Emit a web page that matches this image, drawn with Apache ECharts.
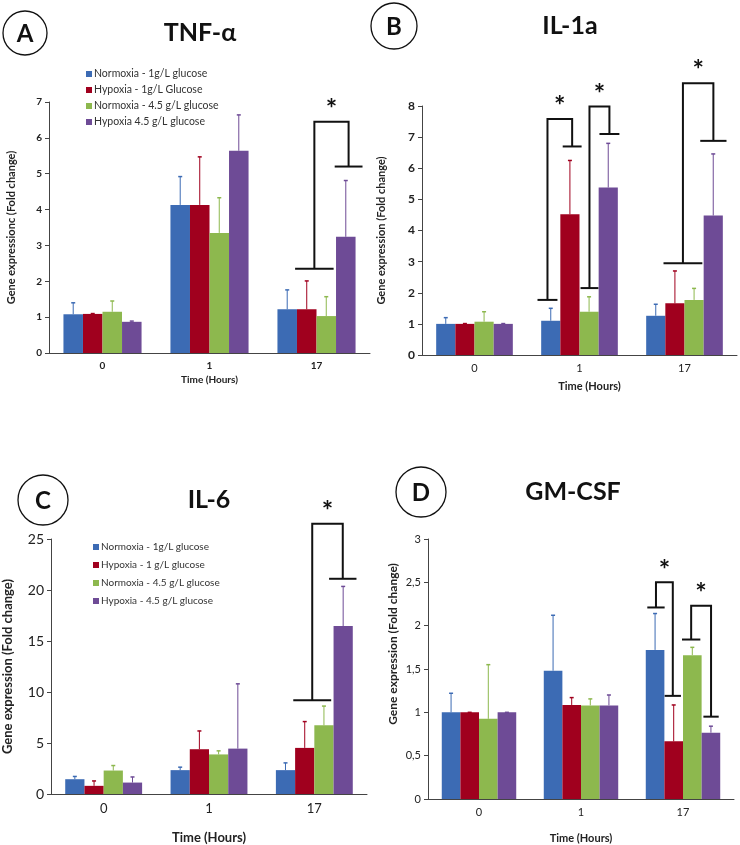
<!DOCTYPE html>
<html>
<head>
<meta charset="utf-8">
<script src="https://cdn.jsdelivr.net/npm/echarts@6/dist/echarts.min.js"></script>
<style>
  html, body { margin: 0; padding: 0; background: #fff; }
  #chart { width: 740px; height: 845px; }
</style>
</head>
<body>
<div id="chart"></div>
<script>
// time points (hours)
const categories = ['0', '1', '17'];
const colors = ['#3C6BB4', '#A0001E', '#8DB84E', '#6E4B96'];

const legendA = ['Normoxia - 1g/L glucose', 'Hypoxia - 1g/L Glucose', 'Normoxia - 4.5 g/L glucose', 'Hypoxia 4.5 g/L glucose'];
const legendC = ['Normoxia - 1g/L glucose', 'Hypoxia - 1 g/L glucose', 'Normoxia - 4.5 g/L glucose', 'Hypoxia - 4.5 g/L glucose'];

// mean fold change, one row per condition (blue, red, green, purple)
const tnfMean = [[1.08, 4.13, 1.22], [1.09, 4.13, 1.22], [1.15, 3.35, 1.03], [0.87, 5.64, 3.24]];
const tnfUpper = [[1.40, 4.92, 1.76], [1.10, 5.47, 2.01], [1.45, 4.33, 1.57], [0.89, 6.64, 4.81]];

const il1aMean = [[1.0, 1.10, 1.26], [1.0, 4.52, 1.66], [1.07, 1.39, 1.77], [1.0, 5.38, 4.48]];
const il1aUpper = [[1.20, 1.50, 1.63], [1.01, 6.25, 2.70], [1.39, 1.87, 2.14], [1.01, 6.80, 6.46]];

const il6Mean = [[1.45, 2.34, 2.34], [0.80, 4.39, 4.52], [2.30, 3.88, 6.73], [1.12, 4.45, 16.47]];
const il6Upper = [[1.72, 2.63, 3.05], [1.28, 6.18, 7.10], [2.79, 4.23, 8.62], [1.67, 10.8, 20.35]];

const gmMean = [[1.0, 1.48, 1.72], [1.0, 1.085, 0.665], [0.925, 1.08, 1.66], [1.0, 1.08, 0.765]];
const gmUpper = [[1.22, 2.12, 2.14], [1.0, 1.17, 1.085], [1.55, 1.155, 1.75], [1.0, 1.20, 0.84]];

// significance brackets: [category, leftFrom, leftTo, leftY, rightFrom, rightTo, rightY, topY]
// from/to are offsets in category widths from the category centre
const sigA = [[2, -0.20, 0.16, 2.35, 0.17, 0.43, 5.2, 6.45]];
const sigB = [
  [1, -0.40, -0.21, 1.77, -0.16, 0.02, 6.7, 7.58],
  [1, 0.01, 0.18, 2.15, 0.19, 0.38, 7.1, 7.98],
  [2, -0.20, 0.17, 2.95, 0.15, 0.40, 6.88, 8.73]
];
const sigC = [[2, -0.20, 0.16, 9.2, 0.14, 0.40, 21.1, 26.5]];
const sigD = [
  [2, -0.35, -0.18, 2.21, -0.18, -0.02, 1.19, 2.5],
  [2, -0.01, 0.17, 1.84, 0.20, 0.35, 0.95, 2.23]
];

const FONT = 'Lato';
const GAP = 0.27;

const chart = echarts.init(document.getElementById('chart'));

function xAxis(gridIndex, labelSize, labelBold, nameSize, nameGap, namePad) {
  return {
    type: 'category', gridIndex: gridIndex, data: categories,
    name: 'Time (Hours)', nameLocation: 'middle', nameGap: nameGap,
    nameTextStyle: { fontFamily: FONT, fontWeight: 'bold', fontSize: nameSize, color: '#222', padding: namePad || 0 },
    axisLine: { lineStyle: { color: '#444', width: 1 } },
    axisTick: { length: 4, lineStyle: { color: '#444' } },
    axisLabel: { fontFamily: FONT, fontSize: labelSize, fontWeight: labelBold ? 'bold' : 'normal', color: '#222', margin: 8 },
    splitLine: { show: false }
  };
}

function yAxis(gridIndex, max, interval, name, labelSize, labelBold, nameSize, nameGap, namePad, fmt) {
  return {
    type: 'value', gridIndex: gridIndex, min: 0, max: max, interval: interval,
    name: name, nameLocation: 'middle', nameGap: nameGap,
    nameTextStyle: { fontFamily: FONT, fontWeight: 'bold', fontSize: nameSize, color: '#222', padding: namePad || 0 },
    axisLine: { show: true, lineStyle: { color: '#444', width: 1 } },
    axisTick: { show: true, length: 4, lineStyle: { color: '#444' } },
    axisLabel: { fontFamily: FONT, fontSize: labelSize, fontWeight: labelBold ? 'bold' : 'normal', color: '#222', margin: 7, formatter: fmt },
    splitLine: { show: false }
  };
}

function errorRender(i) {
  return function (params, api) {
    const k = api.value(0);
    const base = api.coord([k, api.value(1)]);
    const top = api.coord([k, api.value(2)]);
    const catW = api.size([1, 0])[0];
    const barW = catW * (1 - GAP) / 4;
    const x = base[0] + (i - 1.5) * barW;
    const st = { stroke: colors[i], lineWidth: 1 };
    return {
      type: 'group',
      children: [
        { type: 'line', shape: { x1: x, y1: base[1], x2: x, y2: top[1] }, style: st },
        { type: 'line', shape: { x1: x - 2, y1: top[1], x2: x + 2, y2: top[1] }, style: { stroke: colors[i], lineWidth: 1.5 } }
      ]
    };
  };
}

function sigRender(params, api) {
  const k = api.value(0);
  const catW = api.size([1, 0])[0];
  const cx = api.coord([k, 0])[0];
  const X = function (off) { return cx + off * catW; };
  const Y = function (v) { return api.coord([k, v])[1]; };
  const lx0 = X(api.value(1)), lx1 = X(api.value(2)), ly = Y(api.value(3));
  const rx0 = X(api.value(4)), rx1 = X(api.value(5)), ry = Y(api.value(6));
  const ty = Y(api.value(7));
  const lm = (lx0 + lx1) / 2, rm = (rx0 + rx1) / 2;
  const st = { stroke: '#111', lineWidth: 2, fill: null };
  return {
    type: 'group',
    children: [
      { type: 'line', shape: { x1: lx0, y1: ly, x2: lx1, y2: ly }, style: st },
      { type: 'polyline', shape: { points: [[lm, ly], [lm, ty], [rm, ty], [rm, ry]] }, style: st },
      { type: 'line', shape: { x1: rx0, y1: ry, x2: rx1, y2: ry }, style: st },
      { type: 'text', x: (lm + rm) / 2, y: ty + 1, style: { text: '*', fontFamily: FONT, fontWeight: 'bold', fontSize: 27, fill: '#111', align: 'center', verticalAlign: 'bottom' } }
    ]
  };
}

const panels = [
  { mean: tnfMean, upper: tnfUpper, names: legendA, sig: sigA },
  { mean: il1aMean, upper: il1aUpper, names: legendA, sig: sigB },
  { mean: il6Mean, upper: il6Upper, names: legendC, sig: sigC },
  { mean: gmMean, upper: gmUpper, names: legendA, sig: sigD }
];

const series = [];
panels.forEach(function (p, g) {
  for (let i = 0; i < 4; i++) {
    series.push({
      type: 'bar', name: p.names[i], xAxisIndex: g, yAxisIndex: g,
      data: p.mean[i], barGap: 0, barCategoryGap: GAP * 100 + '%',
      itemStyle: { color: colors[i] }, silent: true
    });
  }
  for (let i = 0; i < 4; i++) {
    series.push({
      type: 'custom', xAxisIndex: g, yAxisIndex: g, z: 3, silent: true,
      data: categories.map(function (c, k) { return [k, p.mean[i][k], p.upper[i][k]]; }),
      encode: { x: 0, y: 2 },
      renderItem: errorRender(i)
    });
  }
  series.push({
    type: 'custom', xAxisIndex: g, yAxisIndex: g, z: 4, silent: true, clip: false,
    data: p.sig, encode: { x: 0, y: 3 },
    renderItem: sigRender
  });
});

function panelMark(cx, cy, r, letter, tx, title, titleSize) {
  return [
    { type: 'circle', shape: { cx: cx, cy: cy, r: r }, style: { fill: '#fff', stroke: '#111', lineWidth: 1.3 } },
    { type: 'text', x: cx, y: cy + 1, style: { text: letter, fontFamily: FONT, fontWeight: 'bold', fontSize: 24, fill: '#111', align: 'center', verticalAlign: 'middle' } },
    { type: 'text', x: tx, y: cy, style: { text: title, fontFamily: FONT, fontWeight: 'bold', fontSize: titleSize, fill: '#111', align: 'center', verticalAlign: 'middle' } }
  ];
}

chart.setOption({
  animation: false,
  backgroundColor: '#fff',
  grid: [
    { left: 49, right: 370, top: 102, bottom: 492 },
    { left: 422, right: 3, top: 106, bottom: 490 },
    { left: 50, right: 373, top: 539, bottom: 46 },
    { left: 428, right: 6, top: 539, bottom: 44 }
  ],
  xAxis: [
    xAxis(0, 10, true, 10, 22),
    xAxis(1, 11, false, 11, 26, [0, 0, 0, 20]),
    xAxis(2, 13, false, 13, 37),
    xAxis(3, 11, false, 11, 34)
  ],
  yAxis: [
    yAxis(0, 7, 1, 'Gene expressionc (Fold change)', 10, true, 11, 32),
    yAxis(1, 8, 1, 'Gene expression (Fold change)', 12, true, 11, 35),
    yAxis(2, 25, 5, 'Gene expression (Fold change)', 14, false, 13, 37),
    yAxis(3, 3, 0.5, 'Gene expression (Fold change)', 11, false, 12, 29, [0, 0, 0, 50], function (v) { return String(v).replace('.', ','); })
  ],
  legend: [
    {
      data: legendA, orient: 'vertical', left: 81, top: 63,
      icon: 'rect', itemWidth: 6, itemHeight: 6, itemGap: 4,
      textStyle: { fontFamily: FONT, fontSize: 10.5, color: '#333', lineHeight: 12, padding: [0, 0, 0, -3] },
      selectedMode: false
    },
    {
      data: legendC, orient: 'vertical', left: 88, top: 536,
      icon: 'rect', itemWidth: 6, itemHeight: 6, itemGap: 6,
      textStyle: { fontFamily: FONT, fontSize: 10, color: '#333', lineHeight: 12, padding: [0, 0, 0, -3] },
      selectedMode: false
    }
  ],
  graphic: [].concat(
    panelMark(25, 33, 22, 'A', 200, 'TNF-α', 25),
    panelMark(394, 26, 23, 'B', 570, 'IL-1a', 25),
    panelMark(43, 500, 25, 'C', 209, 'IL-6', 25),
    panelMark(421, 492, 25, 'D', 573, 'GM-CSF', 25)
  ),
  series: series
});
</script>
</body>
</html>
